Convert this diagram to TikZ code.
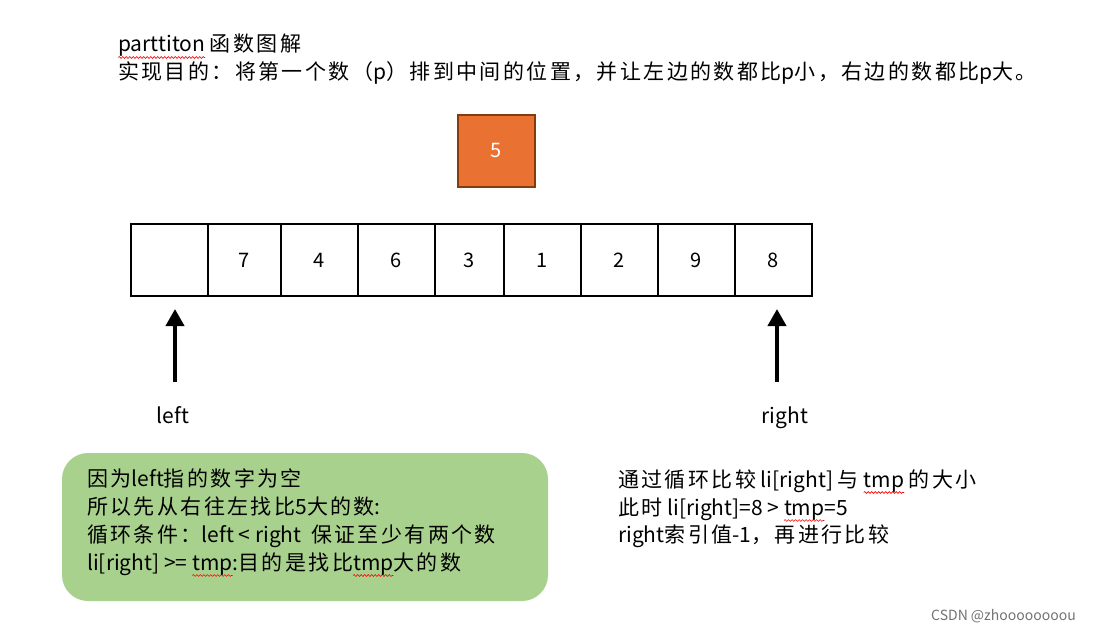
\documentclass[tikz,border=0pt]{standalone}
\usepackage{fontspec}
\setmainfont{Noto Sans CJK SC}
\usetikzlibrary{arrows.meta,decorations.pathmorphing}
\newXeTeXintercharclass\cjkcls
\newcount\mycnt
\mycnt="4E00
\loop\XeTeXcharclass\mycnt=\cjkcls\ifnum\mycnt<"9FFF\advance\mycnt by 1\repeat
\mycnt="3000
\loop\XeTeXcharclass\mycnt=\cjkcls\ifnum\mycnt<"303F\advance\mycnt by 1\repeat
\mycnt="FF00
\loop\XeTeXcharclass\mycnt=\cjkcls\ifnum\mycnt<"FF60\advance\mycnt by 1\repeat
\XeTeXinterchartoks\cjkcls\cjkcls={\hskip 2.4pt\relax}
\XeTeXinterchartokenstate=1
\definecolor{pivotfill}{HTML}{E97132}
\definecolor{pivotdraw}{HTML}{843C0C}
\definecolor{notefill}{HTML}{A9D18E}
\tikzset{
  txt/.style={anchor=base west, inner sep=0pt, font=\fontsize{21}{24}\selectfont},
  cell/.style={draw=black, line width=1.8pt, minimum height=72pt, inner sep=0pt, font=\fontsize{20}{24}\selectfont},
  ptr/.style={line width=4pt, -{Triangle[width=18pt,length=17pt]}},
  lbl/.style={anchor=base, inner sep=0pt, font=\fontsize{21}{24}\selectfont},
  wavy/.style={red, line width=0.6pt, decorate, decoration={snake, amplitude=0.9pt, segment length=3.5pt}}
}
\newsavebox\squigbox
\newcommand\squig[1]{\sbox\squigbox{#1}\rlap{\tikz[overlay,baseline=0pt]\draw[wavy] (0pt,-5.5pt) -- (\wd\squigbox,-5.5pt);}\usebox\squigbox}
\begin{document}
\begin{tikzpicture}[x=1pt,y=-1pt]
\useasboundingbox[fill=white] (0,0) rectangle (1093,631);
% title
\node[txt] (t1) at (118,52) {\squig{parttiton} 函数图解};
\node[txt] (t2) at (118,80) {实现目的：将第一个数（p）排到中间的位置，并让左边的数都比p小，右边的数都比p大。};
% pivot
\node[draw=pivotdraw, fill=pivotfill, line width=1.5pt, minimum width=77pt, minimum height=72pt, text=white, font=\fontsize{20}{24}\selectfont] (piv) at (496.5,151) {5};
% array cells
\node[cell, minimum width=77pt] (c0) at (169.5,260) {};
\node[cell, minimum width=73pt] (c1) at (244.5,260) {7};
\node[cell, minimum width=77pt] (c2) at (319.5,260) {4};
\node[cell, minimum width=77pt] (c3) at (396.5,260) {6};
\node[cell, minimum width=69pt] (c4) at (469.5,260) {3};
\node[cell, minimum width=77pt] (c5) at (542.5,260) {1};
\node[cell, minimum width=77pt] (c6) at (619.5,260) {2};
\node[cell, minimum width=77pt] (c7) at (696.5,260) {9};
\node[cell, minimum width=77pt] (c8) at (773.5,260) {8};
% pointers
\coordinate (lb) at (175,382);
\coordinate (lt) at (175,309);
\coordinate (rb) at (777,382);
\coordinate (rt) at (777,309);
\draw[ptr] (lb) -- (lt);
\draw[ptr] (rb) -- (rt);
\node[lbl] (ll) at (173,423) {left};
\node[lbl] (rl) at (785,423) {right};
% green note
\node[fill=notefill, rounded corners=26pt, minimum width=486pt, minimum height=148pt, inner sep=0pt] (note) at (305,527) {};
\node[txt] (n1) at (87,486) {因为left指的数字为空};
\node[txt] (n2) at (87,514) {所以先从右往左找比5大的数:};
\node[txt] (n3) at (87,542) {循环条件：left < right \ 保证至少有两个数};
\node[txt] (n4) at (87,570) {li[right] >= \squig{tmp}:目的是找比\squig{tmp}大的数};
% right text
\node[txt] (r1) at (618,487) {通过循环比较 li[right] 与 \squig{tmp} 的大小};
\node[txt] (r2) at (618,515) {此时 li[right]=8 > \squig{tmp}=5};
\node[txt] (r3) at (618,542) {right索引值-1，再进行比较};
% watermark
\node[anchor=base west, inner sep=0pt, text=black!55, font=\fontsize{14}{16}\selectfont] (wm) at (931,620) {CSDN @zhoooooooou};
\end{tikzpicture}
\end{document}
